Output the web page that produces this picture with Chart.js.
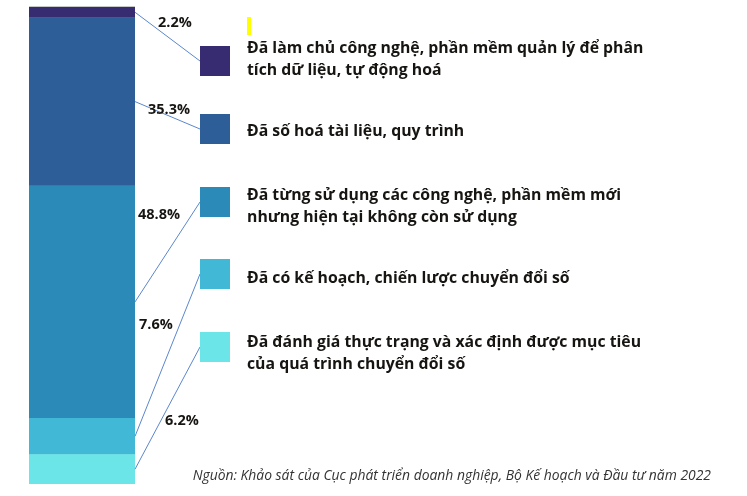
<!DOCTYPE html>
<html>
<head>
<meta charset="utf-8">
<script src="https://cdn.jsdelivr.net/npm/chart.js@4.4.1/dist/chart.umd.min.js"></script>
<style>
  html, body { margin: 0; padding: 0; background: #fff; }
  #wrap { position: relative; width: 747px; height: 496px; }
</style>
</head>
<body>
<div id="wrap"><canvas id="c"></canvas></div>
<script>
'use strict';

// ─── 데이터 (위 → 아래 순서) ─────────────────────────────────────────────
const CATEGORIES = [
  ['Đã làm chủ công nghệ, phần mềm quản lý để phân', 'tích dữ liệu, tự động hoá'],
  ['Đã số hoá tài liệu, quy trình'],
  ['Đã từng sử dụng các công nghệ, phần mềm mới', 'nhưng hiện tại không còn sử dụng'],
  ['Đã có kế hoạch, chiến lược chuyển đổi số'],
  ['Đã đánh giá thực trạng và xác định được mục tiêu', 'của quá trình chuyển đổi số']
];
const VALUES = [2.2, 35.3, 48.8, 7.6, 6.2];
const COLORS = ['#372B72', '#2E5E97', '#2C8AB9', '#42B8D7', '#6CE5E8'];
const SOURCE = 'Nguồn: Khảo sát của Cục phát triển doanh nghiệp, Bộ Kế hoạch và Đầu tư năm 2022';

// ─── 레이아웃 (좌표는 여기만) ────────────────────────────────────────────
const SQ_X = 200, SQ_SIZE = 30, TEXT_X = 247;
const SQ_TOP = [46, 114, 187, 259, 332];      // 범례 사각형 top
const TEXT_Y = [[48, 70], [131], [195, 217], [278], [342, 364]];
const PCT_POS = [[158, 23], [148, 110], [138, 215], [139, 325], [165, 421]];

const FONT = '"Open Sans", sans-serif';

// Chart.js 스택은 첫 데이터셋이 아래 → 역순
const order = VALUES.map((_, i) => i).reverse();
const datasets = order.map(i => ({
  label: CATEGORIES[i].join(' '),
  data: [VALUES[i]],
  backgroundColor: COLORS[i],
  borderWidth: 0,
  barPercentage: 1,
  categoryPercentage: 1,
  _idx: i
}));

const annotatePlugin = {
  id: 'annotate',
  afterDatasetsDraw(chart) {
    const ctx = chart.ctx;
    ctx.save();

    // 상단 회색 선
    const topBar = chart.getDatasetMeta(datasets.length - 1).data[0];
    ctx.fillStyle = '#c8c8c8';
    ctx.fillRect(topBar.x - topBar.width / 2, chart.chartArea.top - 1, topBar.width, 1);

    datasets.forEach((ds, di) => {
      const i = ds._idx;
      const bar = chart.getDatasetMeta(di).data[0];
      const right = bar.x + bar.width / 2;
      const midY = (bar.y + bar.base) / 2;

      // 연결선
      ctx.strokeStyle = '#5B86CC';
      ctx.lineWidth = 1;
      ctx.beginPath();
      ctx.moveTo(right, midY);
      ctx.lineTo(SQ_X, SQ_TOP[i] + SQ_SIZE / 2);
      ctx.stroke();

      // 범례 사각형
      ctx.fillStyle = COLORS[i];
      ctx.fillRect(SQ_X, SQ_TOP[i], SQ_SIZE, SQ_SIZE);

      // 범례 텍스트
      ctx.fillStyle = '#171512';
      ctx.font = 'bold 15.8px ' + FONT;
      ctx.textAlign = 'left';
      ctx.textBaseline = 'middle';
      CATEGORIES[i].forEach((line, k) => ctx.fillText(line, TEXT_X, TEXT_Y[i][k]));

      // 퍼센트
      ctx.font = 'bold 14.5px ' + FONT;
      ctx.fillText(VALUES[i].toFixed(1) + '%', PCT_POS[i][0], PCT_POS[i][1]);
    });

    // 노란 표시
    ctx.fillStyle = '#FFFF00';
    ctx.fillRect(247, 17, 4, 18);

    // 출처
    ctx.fillStyle = '#333';
    ctx.font = 'italic 13.9px ' + FONT;
    ctx.textAlign = 'right';
    ctx.fillText(SOURCE, 711, 476);

    ctx.restore();
  }
};

new Chart(document.getElementById('c'), {
  type: 'bar',
  data: { labels: [''], datasets },
  options: {
    responsive: true,
    maintainAspectRatio: false,
    animation: false,
    layout: { padding: { left: 29, right: 612, top: 7, bottom: 12 } },
    plugins: { legend: { display: false }, tooltip: { enabled: false } },
    scales: {
      x: { stacked: true, display: false },
      y: { stacked: true, display: false, min: 0, max: 100.1 }
    }
  },
  plugins: [annotatePlugin]
});
</script>
</body>
</html>
